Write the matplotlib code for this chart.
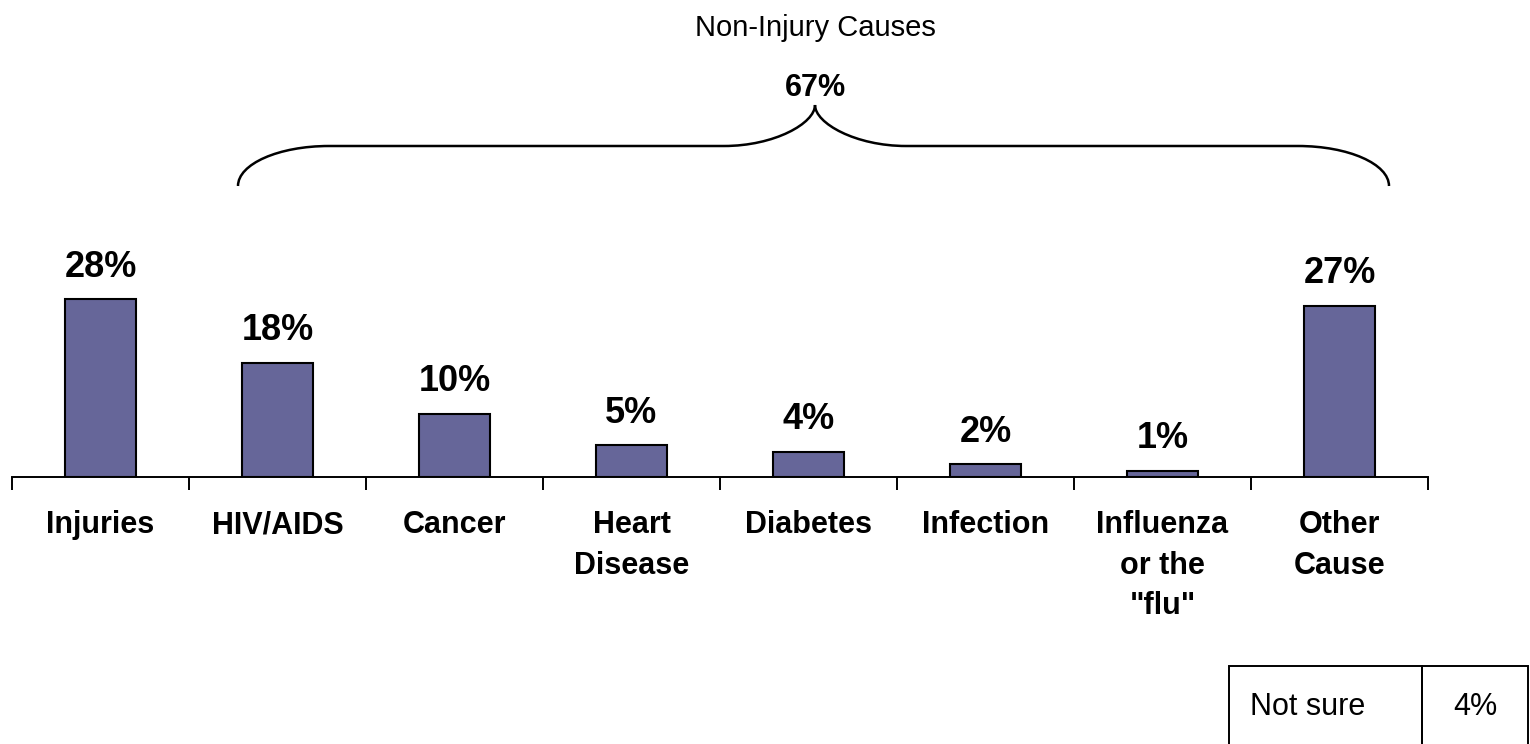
import matplotlib
matplotlib.use("Agg")
import matplotlib.pyplot as plt
from matplotlib.path import Path
from matplotlib.patches import PathPatch, Rectangle

plt.rcParams['font.family'] = ['Liberation Sans', 'DejaVu Sans']

categories = ["Injuries", "HIV/AIDS", "Cancer", "Heart\nDisease", "Diabetes",
              "Infection", "Influenza\nor the\n\"flu\"", "Other\nCause"]
values = [28, 18, 10, 5, 4, 2, 1, 27]
value_labels = ["28%", "18%", "10%", "5%", "4%", "2%", "1%", "27%"]
group_title = "Non-Injury Causes"
group_value = "67%"
table_label = "Not sure"
table_value = "4%"

W, H = 1530, 744
fig = plt.figure(figsize=(W / 100, H / 100), dpi=100)

# axes placement (pixels)
ax_left, ax_right = 12, 1428
base_y = 477          # baseline from top
ymax = 40
px_per_unit = 6.35
top_y = base_y - ymax * px_per_unit
ax = fig.add_axes([ax_left / W, (H - base_y) / H, (ax_right - ax_left) / W,
                   (base_y - top_y) / H])

x = list(range(len(categories)))
ax.bar(x, values, width=0.4, color="#666699", edgecolor="black", linewidth=1.5, zorder=3)
ax.set_xlim(-0.5, len(categories) - 0.5)
ax.set_ylim(0, ymax)

for xi, v, lab in zip(x, values, value_labels):
    ax.annotate(lab, (xi, v), xytext=(0, 16), textcoords="offset points",
                ha="center", va="baseline", fontsize=26, fontweight="bold")

for s in ["top", "right", "left"]:
    ax.spines[s].set_visible(False)
ax.spines["bottom"].set_linewidth(1.4)
ax.set_yticks([])
ax.set_xticks([i - 0.5 for i in range(len(categories) + 1)], minor=True)
ax.set_xticks(x)
ax.set_xticklabels(categories, fontsize=22, fontweight="bold", linespacing=1.45)
ax.tick_params(axis="x", which="major", length=0, pad=24)
ax.tick_params(axis="x", which="minor", length=9, width=1.4, direction="out")

# brace (figure pixel coordinates)
def P(px, py):
    return (px / W, 1 - py / H)

k = 0.5523
L, R, M = 238, 1389, 815
yb, yl, yp = 186, 146, 105
rx, ry = 91, yb - yl
verts = [P(L, yb),
         P(L, yb - k * ry), P(L + rx - k * rx, yl), P(L + rx, yl),
         P(M - rx, yl),
         P(M - rx + k * rx, yl), P(M, yl - k * (yl - yp)), P(M, yp),
         P(M, yl - k * (yl - yp)), P(M + rx - k * rx, yl), P(M + rx, yl),
         P(R - rx, yl),
         P(R - rx + k * rx, yl), P(R, yb - k * ry), P(R, yb)]
codes = [Path.MOVETO,
         Path.CURVE4, Path.CURVE4, Path.CURVE4,
         Path.LINETO,
         Path.CURVE4, Path.CURVE4, Path.CURVE4,
         Path.CURVE4, Path.CURVE4, Path.CURVE4,
         Path.LINETO,
         Path.CURVE4, Path.CURVE4, Path.CURVE4]
fig.patches.append(PathPatch(Path(verts, codes), transform=fig.transFigure,
                             fill=False, edgecolor="black", linewidth=1.8))

fig.text(M / W, 1 - 88 / H, group_value, ha="center", va="center",
         fontsize=22, fontweight="bold")
fig.text(M / W, 1 - 28 / H, group_title, ha="center", va="center", fontsize=21)

# small table at bottom right
tl, tdiv, tr, tt = 1229, 1422, 1528, 666
tb = H + 5
for (a, b) in [(tl, tdiv), (tdiv, tr)]:
    fig.patches.append(Rectangle(P(a, tb), (b - a) / W, (tb - tt) / H,
                                 transform=fig.transFigure, fill=False,
                                 edgecolor="black", linewidth=1.4))
fig.text(1250 / W, 1 - 707 / H, table_label, ha="left", va="center", fontsize=22)
fig.text((tdiv + tr) / 2 / W, 1 - 707 / H, table_value, ha="center", va="center",
         fontsize=22)

fig.savefig("out.png", dpi=100)
